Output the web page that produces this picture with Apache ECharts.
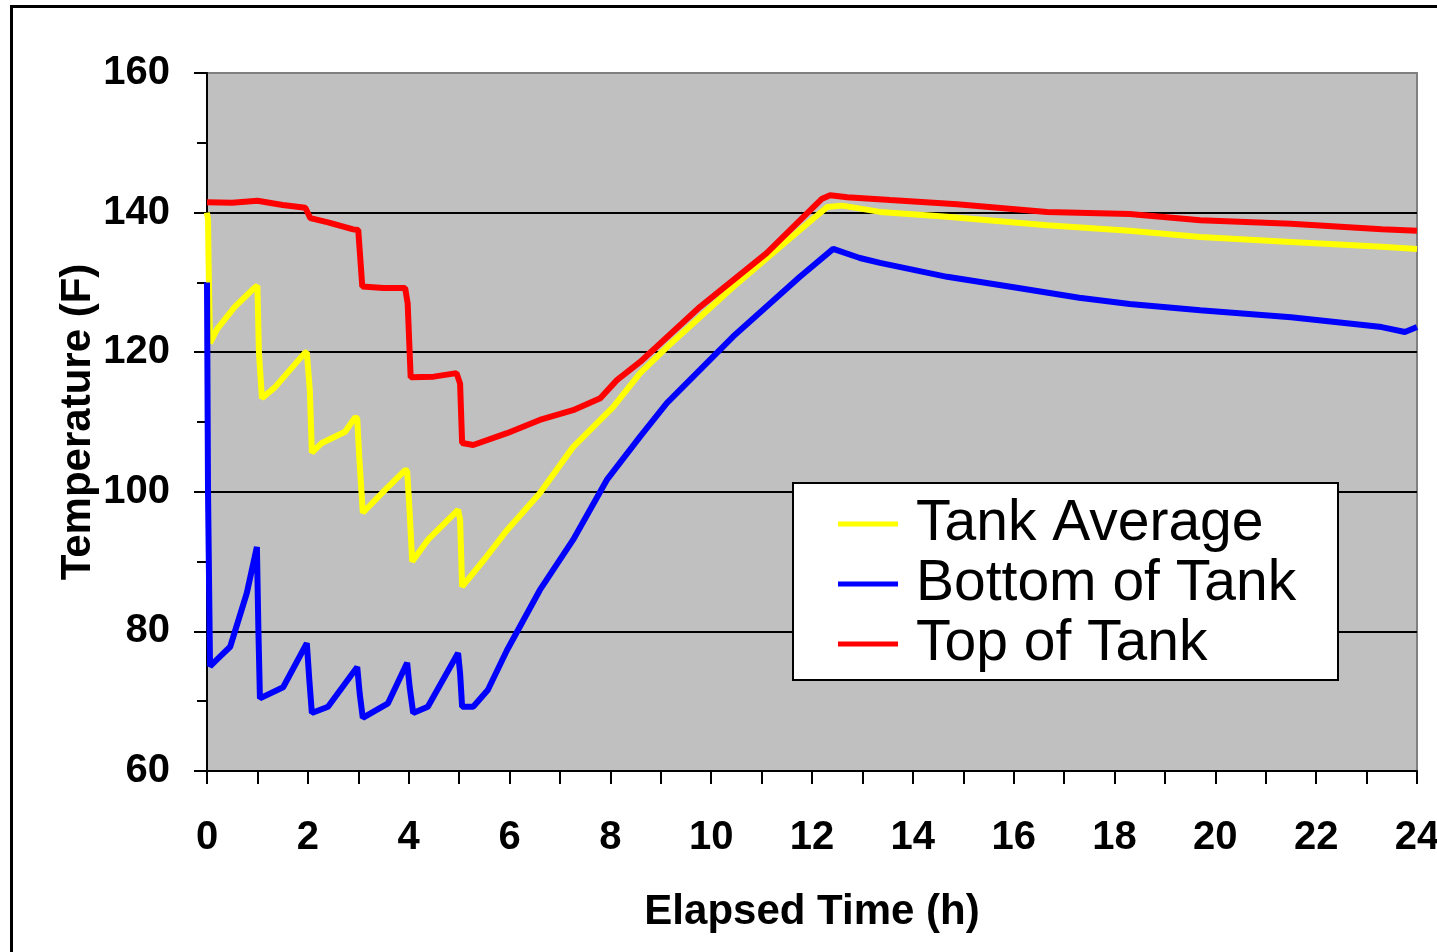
<!DOCTYPE html>
<html>
<head>
<meta charset="utf-8">
<script src="https://cdn.jsdelivr.net/npm/echarts@6/dist/echarts.min.js"></script>
<style>
html,body{margin:0;padding:0;background:#fff;}
#chart{width:1437px;height:952px;}
</style>
</head>
<body>
<div id="chart"></div>
<script>
// Data: [elapsed time (h), temperature (F)]
const tankAverage = [
  [0, 140.0], [0.02, 139.0], [0.03, 133.6], [0.06, 121.3], [0.2, 123.3], [0.55, 126.5], [0.95, 129.3], [1.0, 129.5],
  [1.03, 120.0], [1.09, 113.4], [1.35, 115.0], [1.94, 119.9], [1.98, 120.0], [2.04, 114.5], [2.08, 105.6],
  [2.28, 107.0], [2.74, 108.6], [2.94, 110.7], [2.98, 110.5], [3.02, 105.0], [3.09, 97.0], [3.47, 99.8],
  [3.93, 103.1], [3.97, 103.0], [4.02, 97.0], [4.07, 90.0], [4.38, 93.1], [4.98, 97.4], [5.02, 96.0],
  [5.06, 86.4], [5.5, 90.3], [5.95, 94.5], [6.6, 99.8], [7.26, 106.4], [7.8, 110.3], [8.05, 112.1],
  [8.59, 117.0], [9.12, 120.7], [10.43, 129.3], [11.76, 137.5], [12.3, 140.8], [12.6, 141.0],
  [13.35, 140.1], [14.68, 139.4], [16.66, 138.2], [18.3, 137.4], [19.7, 136.5], [21.5, 135.8],
  [23.3, 135.1], [24, 134.8]
];
const bottomOfTank = [
  [0, 130.0], [0.02, 100.0], [0.06, 75.0], [0.2, 76.0], [0.46, 77.8], [0.79, 85.5], [0.99, 92.1],
  [1.02, 80.0], [1.05, 70.4], [1.51, 72.0], [1.98, 78.3], [2.03, 73.0], [2.08, 68.3], [2.4, 69.2],
  [2.98, 74.9], [3.03, 71.0], [3.09, 67.6], [3.59, 69.7], [3.97, 75.5], [4.02, 72.0], [4.09, 68.3],
  [4.38, 69.2], [4.98, 76.9], [5.02, 74.0], [5.06, 69.2], [5.28, 69.2], [5.57, 71.6], [5.95, 77.3],
  [6.6, 85.9], [7.26, 93.1], [7.93, 101.7], [8.59, 107.9], [9.12, 112.7], [10.43, 122.2],
  [11.76, 130.8], [12.42, 134.8], [12.95, 133.5], [13.35, 132.8], [14.68, 130.8], [16.0, 129.3],
  [17.3, 127.8], [18.3, 126.9], [19.7, 126.0], [21.5, 125.0], [23.3, 123.6], [23.76, 122.9], [24, 123.6]
];
const topOfTank = [
  [0, 141.5], [0.5, 141.4], [1.0, 141.7], [1.5, 141.1], [1.95, 140.7], [2.05, 139.2], [2.4, 138.6],
  [2.9, 137.6], [3.0, 137.5], [3.08, 129.4], [3.5, 129.2], [3.93, 129.2], [3.98, 127.0], [4.04, 116.4],
  [4.5, 116.5], [4.95, 117.0], [5.02, 115.5], [5.06, 107.0], [5.28, 106.7], [5.95, 108.4], [6.6, 110.3],
  [7.26, 111.7], [7.8, 113.4], [8.13, 116.0], [8.59, 118.6], [9.78, 126.5], [11.1, 134.2],
  [11.76, 138.9], [12.2, 142.0], [12.36, 142.5], [12.7, 142.2], [13.55, 141.8], [14.88, 141.2],
  [16.66, 140.1], [18.3, 139.8], [19.7, 138.9], [21.5, 138.4], [23.3, 137.6], [24, 137.4]
];
const seriesNames = ['Tank Average', 'Bottom of Tank', 'Top of Tank'];
const seriesColors = ['#ffff00', '#0000ff', '#ff0000'];
const xTitle = 'Elapsed Time (h)';
const yTitle = 'Temperature (F)';

const FONT = '"Liberation Sans", Arial, sans-serif';
const chart = echarts.init(document.getElementById('chart'), null, {renderer: 'canvas'});
const seriesData = [tankAverage, bottomOfTank, topOfTank];

chart.setOption({
  animation: false,
  backgroundColor: '#fff',
  grid: {
    left: 207, top: 73, width: 1210, height: 698,
    outerBoundsMode: 'none', containLabel: false,
    show: true, backgroundColor: '#c0c0c0', borderColor: '#808080', borderWidth: 2
  },
  xAxis: {
    type: 'value', min: 0, max: 24, interval: 2,
    name: xTitle, nameLocation: 'middle', nameGap: 120, nameMoveOverlap: false,
    nameTextStyle: {fontSize: 42, fontWeight: 'bold', color: '#000', fontFamily: FONT},
    axisLine: {onZero: false, lineStyle: {color: '#000', width: 2}},
    axisTick: {length: 13, lineStyle: {color: '#000', width: 2}},
    minorTick: {show: true, splitNumber: 2, length: 13, lineStyle: {color: '#000', width: 2}},
    splitLine: {show: false},
    axisLabel: {margin: 47, fontSize: 40, fontWeight: 'bold', color: '#000', fontFamily: FONT, showMaxLabel: true}
  },
  yAxis: {
    type: 'value', min: 60, max: 160, interval: 20,
    name: yTitle, nameLocation: 'middle', nameGap: 108, nameRotate: 90, nameMoveOverlap: false,
    nameTextStyle: {fontSize: 42, fontWeight: 'bold', color: '#000', fontFamily: FONT},
    axisLine: {onZero: false, lineStyle: {color: '#000', width: 2}},
    axisTick: {length: 13, lineStyle: {color: '#000', width: 2}},
    minorTick: {show: true, splitNumber: 2, length: 10, lineStyle: {color: '#000', width: 2}},
    splitLine: {show: true, lineStyle: {color: ['#000', '#000', '#000', '#000', '#000', '#808080'], width: 2}},
    axisLabel: {margin: 37, fontSize: 40, fontWeight: 'bold', color: '#000', fontFamily: FONT}
  },
  legend: {
    orient: 'vertical', left: 833, top: 489,
    itemWidth: 60, itemHeight: 5, itemGap: 0, icon: 'rect',
    data: seriesNames,
    textStyle: {fontSize: 57, fontFamily: FONT, color: '#000', lineHeight: 60, padding: [0, 0, 0, 13]}
  },
  graphic: [
    {type: 'rect', z: 3, shape: {x: 793, y: 483, width: 545, height: 197},
     style: {fill: '#fff', stroke: '#000', lineWidth: 2}},
    {type: 'rect', z: 10, shape: {x: 11.5, y: 6.5, width: 1500, height: 1000},
     style: {fill: 'none', stroke: '#000', lineWidth: 3}}
  ],
  series: seriesNames.map((name, i) => ({
    name: name, type: 'line', data: seriesData[i],
    showSymbol: false, symbol: 'none',
    lineStyle: {color: seriesColors[i], width: 6},
    itemStyle: {color: seriesColors[i]}
  }))
});
</script>
</body>
</html>
